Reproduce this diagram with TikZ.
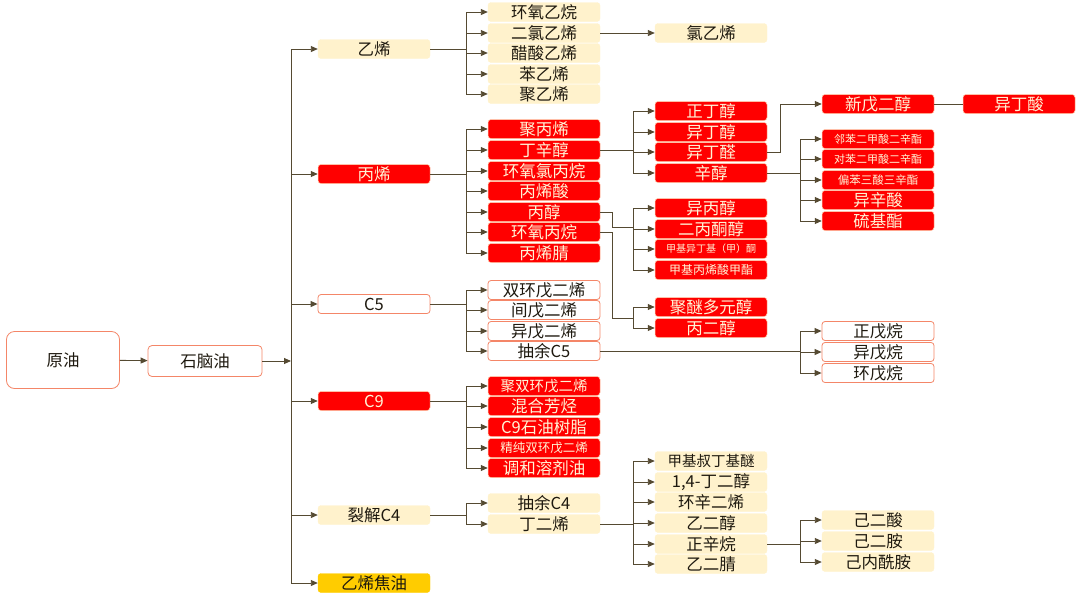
\documentclass[tikz,border=0pt]{standalone}
\usepackage{fontspec}
\setmainfont{Noto Sans CJK SC}
\definecolor{hotred}{RGB}{255,0,0}
\definecolor{hotedge}{RGB}{255,205,170}
\definecolor{hottext}{RGB}{255,244,214}
\definecolor{cream}{RGB}{255,242,204}
\definecolor{gold}{RGB}{255,204,0}
\definecolor{coral}{RGB}{244,134,104}
\definecolor{ink}{RGB}{30,25,15}
\definecolor{wire}{RGB}{85,74,50}
\usetikzlibrary{arrows.meta}
\tikzset{
  box/.style={rounded corners=3pt,minimum width=112pt,minimum height=19pt,
              inner sep=0pt,align=center,text=ink,font=\fontsize{16.5}{16.5}\selectfont},
  hot/.style={box,fill=hotred,draw=hotedge,line width=0.5pt,text=hottext},
  pale/.style={box,fill=cream,draw=cream},
  open/.style={box,fill=white,draw=coral,line width=0.8pt},
  tar/.style={box,fill=gold,draw=gold},
  sm/.style={font=\fontsize{#1}{#1}\selectfont},
  link/.style={draw=wire,line width=0.9pt},
  arr/.style={link,-{Triangle[length=7pt,width=6pt]}},
}

\begin{document}
\begin{tikzpicture}[x=1pt,y=-1pt]
  \path[use as bounding box] (0,0) rectangle (1080,595);
  % feed
  \node[open,rounded corners=8pt,minimum width=113pt,minimum height=57pt] (crude) at (63,360) {原油};
  \node[open,rounded corners=4pt,minimum width=114pt,minimum height=31pt] (naphtha) at (205,361) {石脑油};
  \coordinate (trunk) at (291,361);
  \coordinate (busA) at (466,0);
  \coordinate (busB) at (633,0);
  \coordinate (busC) at (800,0);
  \coordinate (kink) at (612,0);
  \coordinate (kinkNpg) at (780,0);

  % cuts
  \node[pale] (ethylene) at (374,49) {乙烯};
  \node[hot] (propylene) at (374,174) {丙烯};
  \node[open] (cfive) at (374,304) {C5};
  \node[hot] (cnine) at (374,401) {C9};
  \node[pale] (cfour) at (374,515) {裂解C4};
  \node[tar] (tar) at (374,583) {乙烯焦油};

  % ethylene line
  \node[pale] (eo) at (544,12) {环氧乙烷};
  \node[pale] (dce) at (544,33) {二氯乙烯};
  \node[pale] (vac) at (544,53) {醋酸乙烯};
  \node[pale] (sty) at (544,74) {苯乙烯};
  \node[pale] (pe) at (544,94) {聚乙烯};
  \node[pale] (vcm) at (711,33) {氯乙烯};

  % propylene line
  \node[hot] (pp) at (544,129) {聚丙烯};
  \node[hot] (oxo) at (544,150) {丁辛醇};
  \node[hot] (ech) at (544,171) {环氧氯丙烷};
  \node[hot] (aa) at (544,191) {丙烯酸};
  \node[hot] (acetone) at (544,212) {丙醇};
  \node[hot] (po) at (544,232) {环氧丙烷};
  \node[hot] (an) at (544,253) {丙烯腈};

  \node[hot] (nba) at (711,111) {正丁醇};
  \node[hot] (iba) at (711,132) {异丁醇};
  \node[hot] (ibal) at (711,152) {异丁醛};
  \node[hot] (eh) at (711,173) {辛醇};
  \node[hot] (ipa) at (711,208) {异丙醇};
  \node[hot] (daa) at (711,229) {二丙酮醇};
  \node[hot,sm=10] (mibk) at (711,249) {甲基异丁基（甲）酮};
  \node[hot,sm=12] (mma) at (711,270) {甲基丙烯酸甲酯};
  \node[hot] (ppg) at (711,307) {聚醚多元醇};
  \node[hot] (pg) at (711,328) {丙二醇};

  \node[hot] (npg) at (878,104) {新戊二醇};
  \node[hot] (iba2) at (1019,104) {异丁酸};
  \node[hot,sm=11] (dop) at (878,139) {邻苯二甲酸二辛酯};
  \node[hot,sm=11] (dotp) at (878,159) {对苯二甲酸二辛酯};
  \node[hot,sm=11.5] (totm) at (878,180) {偏苯三酸三辛酯};
  \node[hot] (ioa) at (878,200) {异辛酸};
  \node[hot] (thio) at (878,221) {硫基酯};

  % C5 line
  \node[open] (dcpd) at (544,290) {双环戊二烯};
  \node[open] (pip) at (544,310) {间戊二烯};
  \node[open] (ip) at (544,331) {异戊二烯};
  \node[open] (raffv) at (544,351) {抽余C5};
  \node[open] (npent) at (878,331) {正戊烷};
  \node[open] (ipent) at (878,352) {异戊烷};
  \node[open] (cpent) at (878,373) {环戊烷};

  % C9 line
  \node[hot,sm=14.5] (pdcpd) at (544,386) {聚双环戊二烯};
  \node[hot] (arom) at (544,406) {混合芳烃};
  \node[hot] (resin) at (544,427) {C9石油树脂};
  \node[hot,sm=12.5] (hpdcpd) at (544,448) {精纯双环戊二烯};
  \node[hot] (solv) at (544,468) {调和溶剂油};

  % C4 line
  \node[pale] (raffiv) at (544,503) {抽余C4};
  \node[pale] (bd) at (544,524) {丁二烯};
  \node[pale,sm=14.5] (mtbe) at (711,461) {甲基叔丁基醚};
  \node[pale] (bdo) at (711,482) {1,4-丁二醇};
  \node[pale] (cod) at (711,502) {环辛二烯};
  \node[pale] (eg) at (711,523) {乙二醇};
  \node[pale] (oct) at (711,544) {正辛烷};
  \node[pale] (sn) at (711,564) {乙二腈};
  \node[pale] (adip) at (878,520) {己二酸};
  \node[pale] (hmda) at (878,541) {己二胺};
  \node[pale] (capro) at (878,562) {己内酰胺};

  % connectors
  \draw[arr] (crude) -- (naphtha);
  \draw[arr] (naphtha) -- (trunk);
  \draw[arr] (trunk) |- (ethylene.west);
  \draw[arr] (trunk) |- (propylene.west);
  \draw[arr] (trunk) |- (cfive.west);
  \draw[arr] (trunk) |- (cnine.west);
  \draw[arr] (trunk) |- (cfour.west);
  \draw[arr] (trunk) |- (tar.west);

  \draw[arr] (ethylene.east) -- (ethylene -| busA) |- (eo.west);
  \draw[arr] (ethylene.east) -- (ethylene -| busA) |- (dce.west);
  \draw[arr] (ethylene.east) -- (ethylene -| busA) |- (vac.west);
  \draw[arr] (ethylene.east) -- (ethylene -| busA) |- (sty.west);
  \draw[arr] (ethylene.east) -- (ethylene -| busA) |- (pe.west);
  \draw[arr] (dce) -- (vcm);

  \draw[arr] (propylene.east) -- (propylene -| busA) |- (pp.west);
  \draw[arr] (propylene.east) -- (propylene -| busA) |- (oxo.west);
  \draw[arr] (propylene.east) -- (propylene -| busA) |- (ech.west);
  \draw[arr] (propylene.east) -- (propylene -| busA) |- (aa.west);
  \draw[arr] (propylene.east) -- (propylene -| busA) |- (acetone.west);
  \draw[arr] (propylene.east) -- (propylene -| busA) |- (po.west);
  \draw[arr] (propylene.east) -- (propylene -| busA) |- (an.west);

  \draw[arr] (oxo.east) -- (oxo -| busB) |- (nba.west);
  \draw[arr] (oxo.east) -- (oxo -| busB) |- (iba.west);
  \draw[arr] (oxo.east) -- (oxo -| busB) |- (ibal.west);
  \draw[arr] (oxo.east) -- (oxo -| busB) |- (eh.west);
  \draw[arr] (ibal.east) -- (ibal -| kinkNpg) |- (npg.west);
  \draw[link] (npg) -- (iba2);
  \draw[arr] (eh.east) -- (eh -| busC) |- (dop.west);
  \draw[arr] (eh.east) -- (eh -| busC) |- (dotp.west);
  \draw[arr] (eh.east) -- (eh -| busC) |- (totm.west);
  \draw[arr] (eh.east) -- (eh -| busC) |- (ioa.west);
  \draw[arr] (eh.east) -- (eh -| busC) |- (thio.west);

  \draw[arr] (acetone.east) -- (acetone -| kink) -- ([yshift=-15]acetone -| kink) -- ([yshift=-15]acetone -| busB) |- (ipa.west);
  \draw[arr] (acetone.east) -- (acetone -| kink) -- ([yshift=-15]acetone -| kink) -- ([yshift=-15]acetone -| busB) |- (daa.west);
  \draw[arr] (acetone.east) -- (acetone -| kink) -- ([yshift=-15]acetone -| kink) -- ([yshift=-15]acetone -| busB) |- (mibk.west);
  \draw[arr] (acetone.east) -- (acetone -| kink) -- ([yshift=-15]acetone -| kink) -- ([yshift=-15]acetone -| busB) |- (mma.west);
  \draw[arr] (po.east) -- (po -| kink) -- ([yshift=-86]po -| kink) -- ([yshift=-86]po -| busB) |- (ppg.west);
  \draw[arr] (po.east) -- (po -| kink) -- ([yshift=-86]po -| kink) -- ([yshift=-86]po -| busB) |- (pg.west);

  \draw[arr] (cfive.east) -- (cfive -| busA) |- (dcpd.west);
  \draw[arr] (cfive.east) -- (cfive -| busA) |- (pip.west);
  \draw[arr] (cfive.east) -- (cfive -| busA) |- (ip.west);
  \draw[arr] (cfive.east) -- (cfive -| busA) |- (raffv.west);
  \draw[arr] (raffv.east) -- (raffv -| busC) |- (npent.west);
  \draw[arr] (raffv.east) -- (raffv -| busC) |- (ipent.west);
  \draw[arr] (raffv.east) -- (raffv -| busC) |- (cpent.west);

  \draw[arr] (cnine.east) -- (cnine -| busA) |- (pdcpd.west);
  \draw[arr] (cnine.east) -- (cnine -| busA) |- (arom.west);
  \draw[arr] (cnine.east) -- (cnine -| busA) |- (resin.west);
  \draw[arr] (cnine.east) -- (cnine -| busA) |- (hpdcpd.west);
  \draw[arr] (cnine.east) -- (cnine -| busA) |- (solv.west);

  \draw[arr] (cfour.east) -- (cfour -| busA) |- (raffiv.west);
  \draw[arr] (cfour.east) -- (cfour -| busA) |- (bd.west);
  \draw[arr] (bd.east) -- (bd -| busB) |- (mtbe.west);
  \draw[arr] (bd.east) -- (bd -| busB) |- (bdo.west);
  \draw[arr] (bd.east) -- (bd -| busB) |- (cod.west);
  \draw[arr] (bd.east) -- (bd -| busB) |- (eg.west);
  \draw[arr] (bd.east) -- (bd -| busB) |- (oct.west);
  \draw[arr] (bd.east) -- (bd -| busB) |- (sn.west);
  \draw[arr] (oct.east) -- (oct -| busC) |- (adip.west);
  \draw[arr] (oct.east) -- (oct -| busC) |- (hmda.west);
  \draw[arr] (oct.east) -- (oct -| busC) |- (capro.west);
\end{tikzpicture}
\end{document}
